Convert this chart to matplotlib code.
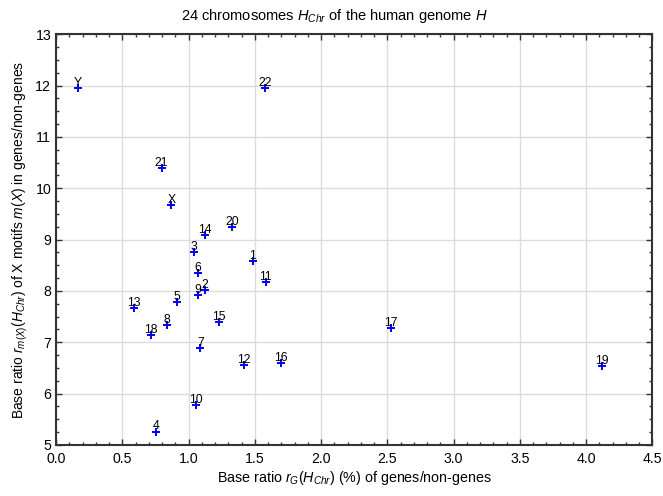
import matplotlib.pyplot as plt
from matplotlib.ticker import MultipleLocator

plt.rcParams["font.family"] = "Liberation Sans"
plt.rcParams["mathtext.fontset"] = "custom"
plt.rcParams["mathtext.rm"] = "Liberation Sans"
plt.rcParams["mathtext.it"] = "Liberation Sans:italic"

labels = ['Y', '22', '21', 'X', '14', '20', '3', '1', '6', '11', '2', '9',
          '5', '13', '8', '15', '18', '7', '12', '16', '10', '4', '17', '19']
rg = [0.165, 1.579, 0.797, 0.870, 1.123, 1.328, 1.040, 1.486, 1.073, 1.581,
      1.123, 1.073, 0.912, 0.589, 0.837, 1.228, 0.714, 1.090, 1.421, 1.697,
      1.053, 0.752, 2.526, 4.120]
rm = [11.955, 11.955, 10.385, 9.665, 9.08, 9.245, 8.75, 8.59, 8.35, 8.18,
      8.02, 7.92, 7.79, 7.66, 7.34, 7.39, 7.14, 6.89, 6.55, 6.59,
      5.78, 5.26, 7.27, 6.53]

fig = plt.figure(figsize=(6.63, 4.96), dpi=100)
ax = fig.add_axes([0.0845, 0.103, 0.8995, 0.828])

ax.plot(rg, rm, linestyle='none', marker='+', color='blue',
        markersize=6, markeredgewidth=1.4, zorder=3)
for lab, x, y in zip(labels, rg, rm):
    ax.annotate(lab, (x, y), xytext=(0, 1.5), textcoords='offset points',
                ha='center', va='baseline', fontsize=8.8, zorder=4)

ax.set_xlim(0, 4.5)
ax.set_ylim(5, 13)
ax.xaxis.set_major_locator(MultipleLocator(0.5))
ax.xaxis.set_minor_locator(MultipleLocator(0.1))
ax.yaxis.set_major_locator(MultipleLocator(1))
ax.yaxis.set_minor_locator(MultipleLocator(0.25))
ax.xaxis.set_major_formatter(plt.FormatStrFormatter('%.1f'))

ax.tick_params(which='both', direction='in', top=True, right=True,
               color='#333333', labelsize=10.2)
ax.tick_params(which='major', length=4, width=1)
ax.tick_params(axis='x', which='major', pad=5)
ax.tick_params(which='minor', length=2.5, width=1)
for s in ax.spines.values():
    s.set_color('#333333')
    s.set_linewidth(1.5)

ax.grid(True, which='major', color='#dcdcdc', linewidth=1)
ax.set_axisbelow(True)

fig.text(0.505, 0.96, r'24 chromosomes $H_{Chr}$ of the human genome $H$',
         fontsize=10.5, ha='center', va='baseline')
ax.set_xlabel(r'Base ratio $r_G(H_{Chr})$ (%) of genes/non-genes',
              fontsize=10.3, labelpad=2)
ax.set_ylabel(r'Base ratio $r_{m(X)}(H_{Chr})$ of X motifs $m(X)$ in genes/non-genes',
              fontsize=10, labelpad=4)

fig.savefig('out.png', dpi=100)
